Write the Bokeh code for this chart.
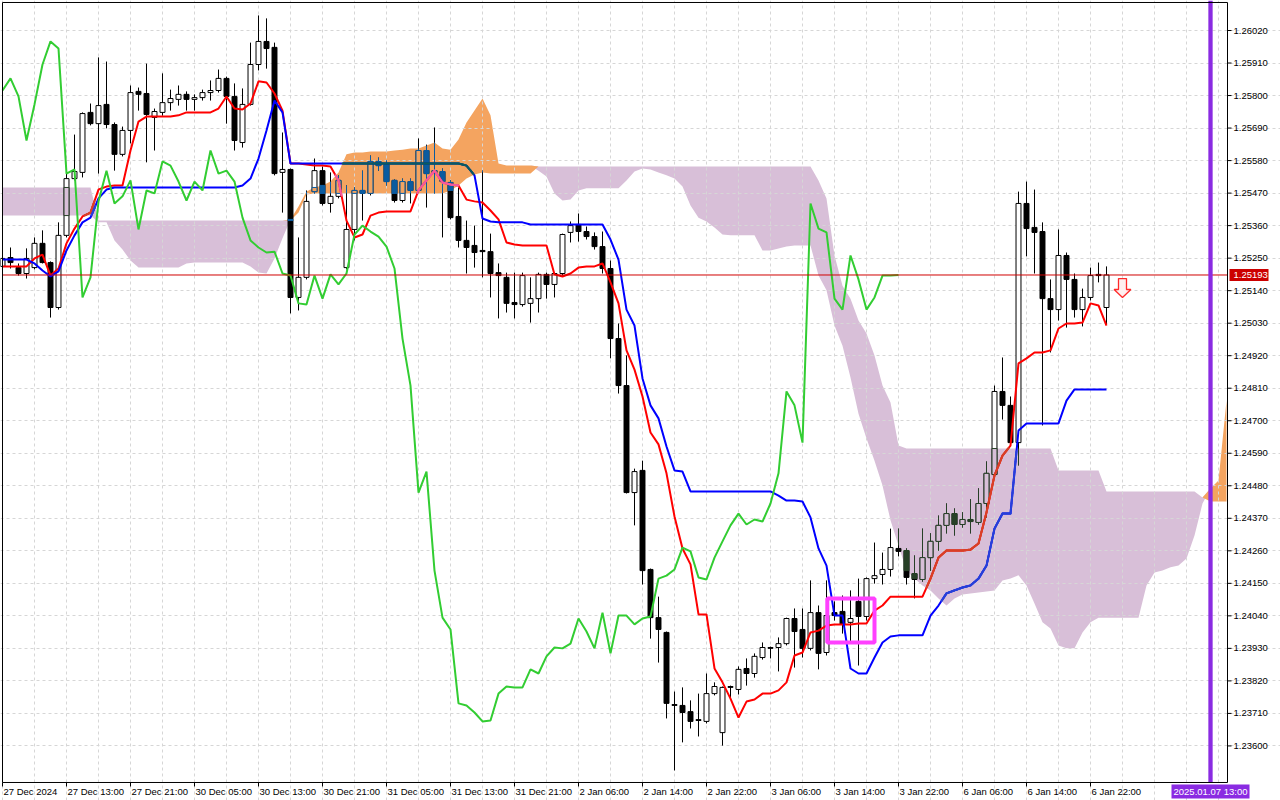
import numpy as np
from bokeh.plotting import figure
from bokeh.models import FixedTicker, Range1d
from bokeh.core.properties import value
from bokeh.embed import file_html
from bokeh.resources import INLINE

# ---------------- data (H1 candles + Ichimoku) ----------------
date_ticks = [0, 8, 16, 24, 32, 40, 48, 56, 64, 72, 80, 88, 96, 104, 112, 120, 128, 136]
date_labels = ["27 Dec 2024", "27 Dec 13:00", "27 Dec 21:00", "30 Dec 05:00", "30 Dec 13:00",
               "30 Dec 21:00", "31 Dec 05:00", "31 Dec 13:00", "31 Dec 21:00", "2 Jan 06:00",
               "2 Jan 14:00", "2 Jan 22:00", "3 Jan 06:00", "3 Jan 14:00", "3 Jan 22:00",
               "6 Jan 06:00", "6 Jan 14:00", "6 Jan 22:00"]
grid_bars = [0, 4, 8, 12, 16, 20, 24, 28, 32, 36, 40, 44, 48, 52, 56, 60, 64, 68, 72, 76,
             80, 84, 88, 92, 96, 100, 104, 108, 112, 116, 120, 124, 128, 132, 136, 140, 144,
             148, 152]
price_ticks = [1.23600, 1.23710, 1.23820, 1.23930, 1.24040, 1.24150, 1.24260, 1.24370,
               1.24480, 1.24590, 1.24700, 1.24810, 1.24920, 1.25030, 1.25140, 1.25250,
               1.25360, 1.25470, 1.25580, 1.25690, 1.25800, 1.25910, 1.26020]

opens = [
    1.25222, 1.25252, 1.25218, 1.25198, 1.25218, 1.25300, 1.25235, 1.25083, 1.25327, 1.25519,
    1.25540, 1.25743, 1.25705, 1.25770, 1.25702, 1.25601, 1.25682, 1.25814, 1.25807, 1.25726,
    1.25743, 1.25776, 1.25787, 1.25804, 1.25787, 1.25793, 1.25810, 1.25817, 1.25858, 1.25797,
    1.25641, 1.25770, 1.25905, 1.25983, 1.25963, 1.25540, 1.25550, 1.25117, 1.25185, 1.25475,
    1.25546, 1.25435, 1.25459, 1.25218, 1.25347, 1.25479, 1.25469, 1.25577, 1.25567, 1.25513,
    1.25445, 1.25509, 1.25479, 1.25614, 1.25540, 1.25543, 1.25506, 1.25391, 1.25310, 1.25293,
    1.25276, 1.25272, 1.25201, 1.25185, 1.25100, 1.25093, 1.25097, 1.25113, 1.25195, 1.25161,
    1.25198, 1.25337, 1.25364, 1.25340, 1.25323, 1.25289, 1.25215, 1.24978, 1.24819, 1.24457,
    1.24532, 1.24197, 1.24034, 1.23984, 1.23740, 1.23737, 1.23716, 1.23689, 1.23683, 1.23777,
    1.23645, 1.23801, 1.23791, 1.23862, 1.23845, 1.23899, 1.23933, 1.23933, 1.23946, 1.24031,
    1.23994, 1.23930, 1.24051, 1.23916, 1.24051, 1.24055, 1.24018, 1.24089, 1.24038, 1.24166,
    1.24180, 1.24197, 1.24268, 1.24261, 1.24183, 1.24163, 1.24237, 1.24292, 1.24346, 1.24386,
    1.24349, 1.24366, 1.24356, 1.24420, 1.24518, 1.24799, 1.24752, 1.24626, 1.25435, 1.25354,
    1.25340, 1.25113, 1.25076, 1.25259, 1.25178, 1.25076, 1.25117, 1.25195, 1.25083,
]
highs = [
    1.25269, 1.25286, 1.25232, 1.25283, 1.25320, 1.25344, 1.25239, 1.25371, 1.25540, 1.25668,
    1.25743, 1.25773, 1.25929, 1.25915, 1.25709, 1.25695, 1.25834, 1.25827, 1.25908, 1.25756,
    1.25875, 1.25820, 1.25834, 1.25814, 1.25804, 1.25820, 1.25851, 1.25888, 1.25864, 1.25841,
    1.25824, 1.25979, 1.26071, 1.26061, 1.25979, 1.25675, 1.25553, 1.25320, 1.25479, 1.25587,
    1.25560, 1.25540, 1.25530, 1.25496, 1.25489, 1.25546, 1.25597, 1.25590, 1.25580, 1.25516,
    1.25519, 1.25519, 1.25655, 1.25634, 1.25692, 1.25553, 1.25513, 1.25489, 1.25377, 1.25360,
    1.25546, 1.25333, 1.25232, 1.25201, 1.25201, 1.25201, 1.25185, 1.25201, 1.25201, 1.25201,
    1.25333, 1.25374, 1.25401, 1.25357, 1.25337, 1.25340, 1.25242, 1.25029, 1.24921, 1.24538,
    1.24565, 1.24200, 1.24105, 1.23987, 1.23784, 1.23798, 1.23754, 1.23777, 1.23845, 1.23815,
    1.23801, 1.23804, 1.23869, 1.23896, 1.23913, 1.23950, 1.23936, 1.23967, 1.24034, 1.24065,
    1.24065, 1.24160, 1.24075, 1.24160, 1.24089, 1.24109, 1.24126, 1.24166, 1.24170, 1.24288,
    1.24254, 1.24335, 1.24335, 1.24268, 1.24244, 1.24335, 1.24319, 1.24379, 1.24420, 1.24403,
    1.24390, 1.24434, 1.24471, 1.24562, 1.24819, 1.24914, 1.24782, 1.25475, 1.25509, 1.25482,
    1.25371, 1.25178, 1.25347, 1.25269, 1.25198, 1.25147, 1.25218, 1.25235, 1.25222,
]
lows = [
    1.25208, 1.25215, 1.25191, 1.25181, 1.25212, 1.25232, 1.25049, 1.25076, 1.25320, 1.25513,
    1.25523, 1.25699, 1.25536, 1.25689, 1.25546, 1.25594, 1.25638, 1.25749, 1.25574, 1.25614,
    1.25732, 1.25749, 1.25766, 1.25749, 1.25749, 1.25783, 1.25783, 1.25810, 1.25705, 1.25614,
    1.25624, 1.25766, 1.25885, 1.25891, 1.25530, 1.25404, 1.25063, 1.25073, 1.25178, 1.25469,
    1.25428, 1.25404, 1.25452, 1.25212, 1.25310, 1.25377, 1.25462, 1.25546, 1.25496, 1.25438,
    1.25438, 1.25435, 1.25472, 1.25421, 1.25469, 1.25320, 1.25381, 1.25286, 1.25198, 1.25218,
    1.25185, 1.25117, 1.25046, 1.25066, 1.25046, 1.25086, 1.25032, 1.25066, 1.25113, 1.25117,
    1.25191, 1.25303, 1.25306, 1.25313, 1.25279, 1.25198, 1.24911, 1.24792, 1.24454, 1.24346,
    1.24146, 1.23963, 1.23882, 1.23693, 1.23517, 1.23612, 1.23659, 1.23632, 1.23676, 1.23771,
    1.23601, 1.23760, 1.23774, 1.23804, 1.23831, 1.23892, 1.23896, 1.23852, 1.23940, 1.23865,
    1.23899, 1.23923, 1.23859, 1.23906, 1.24024, 1.23980, 1.23946, 1.23872, 1.24024, 1.24149,
    1.24146, 1.24173, 1.24241, 1.24146, 1.24099, 1.24156, 1.24193, 1.24261, 1.24319, 1.24312,
    1.24339, 1.24319, 1.24349, 1.24373, 1.24511, 1.24704, 1.24620, 1.24549, 1.25256, 1.25198,
    1.24684, 1.24931, 1.25039, 1.25015, 1.25049, 1.25019, 1.25107, 1.25168, 1.25026,
]
closes = [
    1.25249, 1.25235, 1.25198, 1.25249, 1.25300, 1.25235, 1.25083, 1.25327, 1.25519, 1.25543,
    1.25739, 1.25705, 1.25766, 1.25702, 1.25601, 1.25682, 1.25810, 1.25804, 1.25736, 1.25746,
    1.25776, 1.25790, 1.25804, 1.25787, 1.25793, 1.25810, 1.25817, 1.25858, 1.25797, 1.25648,
    1.25770, 1.25905, 1.25983, 1.25959, 1.25536, 1.25550, 1.25117, 1.25185, 1.25442, 1.25546,
    1.25435, 1.25459, 1.25513, 1.25347, 1.25479, 1.25469, 1.25577, 1.25563, 1.25509, 1.25445,
    1.25509, 1.25479, 1.25614, 1.25536, 1.25546, 1.25509, 1.25387, 1.25310, 1.25286, 1.25269,
    1.25272, 1.25198, 1.25191, 1.25097, 1.25093, 1.25191, 1.25113, 1.25195, 1.25161, 1.25198,
    1.25330, 1.25360, 1.25340, 1.25323, 1.25289, 1.25215, 1.24978, 1.24819, 1.24457, 1.24528,
    1.24193, 1.24034, 1.23994, 1.23744, 1.23737, 1.23713, 1.23683, 1.23686, 1.23777, 1.23801,
    1.23798, 1.23798, 1.23859, 1.23845, 1.23903, 1.23933, 1.23930, 1.23946, 1.24031, 1.23987,
    1.23930, 1.24051, 1.23913, 1.24041, 1.24041, 1.24011, 1.24031, 1.24038, 1.24166, 1.24176,
    1.24197, 1.24271, 1.24258, 1.24170, 1.24163, 1.24237, 1.24292, 1.24346, 1.24386, 1.24349,
    1.24366, 1.24359, 1.24420, 1.24522, 1.24799, 1.24752, 1.24626, 1.25435, 1.25350, 1.25337,
    1.25113, 1.25076, 1.25259, 1.25178, 1.25076, 1.25117, 1.25191, 1.25191, 1.25193,
]

# Tenkan-sen (red) and Kijun-sen (blue), one value per candle
tenkan = [
    1.25222, 1.25222, 1.25222, 1.25222, 1.25249, 1.25262, 1.25191, 1.25215, 1.25300, 1.25350,
    1.25391, 1.25404, 1.25482, 1.25492, 1.25496, 1.25496, 1.25614, 1.25712, 1.25729, 1.25729,
    1.25729, 1.25729, 1.25733, 1.25743, 1.25743, 1.25743, 1.25743, 1.25756, 1.25797, 1.25756,
    1.25753, 1.25773, 1.25848, 1.25844, 1.25807, 1.25749, 1.25570, 1.25570, 1.25567, 1.25563,
    1.25563, 1.25560, 1.25513, 1.25377, 1.25320, 1.25330, 1.25394, 1.25404, 1.25408, 1.25408,
    1.25408, 1.25408, 1.25479, 1.25513, 1.25546, 1.25506, 1.25499, 1.25496, 1.25448, 1.25442,
    1.25438, 1.25411, 1.25381, 1.25303, 1.25296, 1.25293, 1.25293, 1.25293, 1.25293, 1.25195,
    1.25188, 1.25198, 1.25218, 1.25222, 1.25222, 1.25232, 1.25168, 1.25097, 1.24938, 1.24873,
    1.24782, 1.24660, 1.24620, 1.24522, 1.24376, 1.24268, 1.24214, 1.24045, 1.24045, 1.23862,
    1.23815, 1.23760, 1.23696, 1.23750, 1.23757, 1.23777, 1.23777, 1.23788, 1.23815, 1.23906,
    1.23916, 1.23984, 1.23990, 1.24007, 1.24011, 1.24011, 1.24011, 1.24014, 1.24014, 1.24058,
    1.24075, 1.24105, 1.24105, 1.24105, 1.24105, 1.24105, 1.24166, 1.24237, 1.24261, 1.24261,
    1.24261, 1.24264, 1.24285, 1.24390, 1.24515, 1.24582, 1.24616, 1.24894, 1.24911, 1.24931,
    1.24931, 1.24938, 1.25012, 1.25029, 1.25029, 1.25032, 1.25097, 1.25090, 1.25022,
]
kijun = [
    1.25245, 1.25245, 1.25245, 1.25245, 1.25232, 1.25208, 1.25188, 1.25205, 1.25276, 1.25327,
    1.25371, 1.25387, 1.25452, 1.25482, 1.25489, 1.25489, 1.25489, 1.25489, 1.25489, 1.25489,
    1.25489, 1.25489, 1.25489, 1.25489, 1.25489, 1.25489, 1.25489, 1.25489, 1.25489, 1.25489,
    1.25496, 1.25519, 1.25587, 1.25682, 1.25783, 1.25743, 1.25570, 1.25570, 1.25570, 1.25570,
    1.25570, 1.25570, 1.25570, 1.25570, 1.25570, 1.25570, 1.25570, 1.25570, 1.25570, 1.25570,
    1.25570, 1.25570, 1.25570, 1.25570, 1.25570, 1.25570, 1.25570, 1.25570, 1.25563, 1.25530,
    1.25384, 1.25374, 1.25371, 1.25371, 1.25371, 1.25371, 1.25364, 1.25364, 1.25364, 1.25364,
    1.25364, 1.25364, 1.25364, 1.25364, 1.25364, 1.25364, 1.25313, 1.25245, 1.25076, 1.25022,
    1.24843, 1.24752, 1.24708, 1.24613, 1.24532, 1.24528, 1.24461, 1.24461, 1.24461, 1.24461,
    1.24461, 1.24461, 1.24461, 1.24461, 1.24461, 1.24461, 1.24461, 1.24447, 1.24430, 1.24430,
    1.24427, 1.24373, 1.24268, 1.24210, 1.24041, 1.24041, 1.23862, 1.23845, 1.23845, 1.23899,
    1.23950, 1.23970, 1.23974, 1.23974, 1.23974, 1.23974, 1.24041, 1.24075, 1.24116, 1.24126,
    1.24136, 1.24143, 1.24166, 1.24210, 1.24335, 1.24386, 1.24386, 1.24667, 1.24691, 1.24691,
    1.24691, 1.24691, 1.24691, 1.24768, 1.24806, 1.24806, 1.24806, 1.24806, 1.24806,
]

# Senkou span A and B (already shifted 26 bars ahead), one value per bar slot 0..153
span_a = [
    1.25394, 1.25394, 1.25394, 1.25394, 1.25394, 1.25394, 1.25394, 1.25394, 1.25394, 1.25394,
    1.25394, 1.25394, 1.25371, 1.25371, 1.25310, 1.25279, 1.25242, 1.25218, 1.25218, 1.25218,
    1.25218, 1.25218, 1.25218, 1.25232, 1.25235, 1.25235, 1.25235, 1.25235, 1.25235, 1.25235,
    1.25235, 1.25222, 1.25201, 1.25198, 1.25249, 1.25317, 1.25381, 1.25425, 1.25475, 1.25489,
    1.25496, 1.25509, 1.25540, 1.25601, 1.25607, 1.25607, 1.25611, 1.25611, 1.25611, 1.25614,
    1.25617, 1.25621, 1.25621, 1.25631, 1.25641, 1.25621, 1.25617, 1.25651, 1.25709, 1.25749,
    1.25790, 1.25733, 1.25570, 1.25563, 1.25563, 1.25563, 1.25563, 1.25546, 1.25526, 1.25469,
    1.25445, 1.25448, 1.25479, 1.25486, 1.25486, 1.25486, 1.25486, 1.25486, 1.25513, 1.25543,
    1.25553, 1.25550, 1.25540, 1.25530, 1.25519, 1.25492, 1.25428, 1.25387, 1.25374, 1.25354,
    1.25330, 1.25327, 1.25327, 1.25327, 1.25327, 1.25276, 1.25276, 1.25283, 1.25289, 1.25293,
    1.25293, 1.25293, 1.25191, 1.25141, 1.25022, 1.24954, 1.24846, 1.24724, 1.24640, 1.24565,
    1.24481, 1.24363, 1.24278, 1.24193, 1.24166, 1.24143, 1.24126, 1.24099, 1.24075, 1.24099,
    1.24112, 1.24116, 1.24119, 1.24122, 1.24126, 1.24160, 1.24166, 1.24177, 1.24143, 1.24082,
    1.24018, 1.23997, 1.23940, 1.23930, 1.23930, 1.23984, 1.24018, 1.24034, 1.24034, 1.24034,
    1.24034, 1.24034, 1.24034, 1.24143, 1.24187, 1.24193, 1.24204, 1.24210, 1.24234, 1.24312,
    1.24420, 1.24471, 1.24498, 1.24768,
]
span_b = [
    1.25489, 1.25489, 1.25489, 1.25489, 1.25489, 1.25489, 1.25489, 1.25489, 1.25489, 1.25489,
    1.25489, 1.25489, 1.25377, 1.25377, 1.25377, 1.25377, 1.25377, 1.25377, 1.25377, 1.25377,
    1.25377, 1.25377, 1.25377, 1.25377, 1.25377, 1.25377, 1.25377, 1.25377, 1.25377, 1.25377,
    1.25377, 1.25377, 1.25377, 1.25377, 1.25377, 1.25377, 1.25377, 1.25404, 1.25465, 1.25469,
    1.25469, 1.25469, 1.25469, 1.25469, 1.25469, 1.25469, 1.25469, 1.25469, 1.25469, 1.25469,
    1.25469, 1.25469, 1.25469, 1.25469, 1.25469, 1.25469, 1.25479, 1.25496, 1.25519, 1.25533,
    1.25540, 1.25536, 1.25536, 1.25536, 1.25536, 1.25536, 1.25536, 1.25560, 1.25560, 1.25560,
    1.25560, 1.25560, 1.25560, 1.25560, 1.25560, 1.25560, 1.25560, 1.25560, 1.25560, 1.25560,
    1.25560, 1.25560, 1.25560, 1.25560, 1.25560, 1.25560, 1.25560, 1.25560, 1.25560, 1.25560,
    1.25560, 1.25560, 1.25560, 1.25560, 1.25560, 1.25560, 1.25560, 1.25560, 1.25560, 1.25560,
    1.25560, 1.25560, 1.25513, 1.25452, 1.25259, 1.25157, 1.25113, 1.25039, 1.24995, 1.24921,
    1.24819, 1.24762, 1.24616, 1.24606, 1.24606, 1.24606, 1.24606, 1.24606, 1.24606, 1.24606,
    1.24606, 1.24606, 1.24606, 1.24606, 1.24606, 1.24606, 1.24606, 1.24606, 1.24606, 1.24606,
    1.24606, 1.24606, 1.24532, 1.24532, 1.24532, 1.24532, 1.24532, 1.24532, 1.24461, 1.24461,
    1.24461, 1.24461, 1.24461, 1.24461, 1.24461, 1.24461, 1.24461, 1.24461, 1.24461, 1.24461,
    1.24440, 1.24427, 1.24427, 1.24427,
]
chikou_shift = 26

last_price = 1.25193
last_price_label = "1.25193"
time_line_bar = 151
time_line_label = "2025.01.07 13:00"
box_bars = (103.1, 109.0)          # magenta frame around the signal
box_prices = (1.23950, 1.24099)
arrow_bar = 140                    # sell arrow
arrow_prices = (1.25181, 1.25144, 1.25117)   # shaft top, head base, tip

# ---------------- layout of the terminal window ----------------
# canvas is 1280x800 px; price frame spans bars 0..153.125 (8 px per bar)
PX_BAR = 1 / 8.0              # bars per pixel
PX_PRICE = 0.000033826        # price per pixel
X_RANGE = (-0.25, 159.75)
Y_RANGE = (1.2341542, 1.2612148)
FRAME_L, FRAME_R = 0.0, 153.125
FRAME_B, FRAME_T = 1.2347631, 1.2611473

FONT = "Liberation Sans"
FONT_SIZE = "9.5px"

# terminal colours; the kumo is painted in XOR mode over candles, tenkan and kijun
KUMO_UP, KUMO_DN = "#F4A460", "#D8BFD8"
XOR_UP = {"black": "#0B5B9F", "white": KUMO_UP, "red": "#F45B9F", "blue": "#0B5B60"}
XOR_DN = {"black": "#274027", "white": KUMO_DN, "red": "#D84027", "blue": "#2740D8"}

o = np.array(opens)
h = np.array(highs)
l = np.array(lows)
c = np.array(closes)
bars = np.arange(len(c))
a = np.array(span_a)
b = np.array(span_b)
cloud_x = np.arange(len(a))
kumo_top = np.maximum(a, b)
kumo_bot = np.minimum(a, b)
kumo_up = a > b

p = figure(width=1280, height=800, output_backend="svg", toolbar_location=None,
           x_range=Range1d(*X_RANGE), y_range=Range1d(*Y_RANGE),
           x_axis_location=None, y_axis_location=None, min_border=0)
p.background_fill_color = "white"
p.border_fill_color = "white"
p.outline_line_color = None

# grid (dashed, only inside the price frame)
p.xgrid.ticker = FixedTicker(ticks=grid_bars)
p.ygrid.ticker = FixedTicker(ticks=price_ticks)
p.xgrid.bounds = (FRAME_B, FRAME_T)
p.ygrid.bounds = (FRAME_L, FRAME_R)
for g in (p.xgrid, p.ygrid):
    g.grid_line_color = "#D6D6D6"
    g.grid_line_dash = "3 3"

# Kumo
purple = p.varea(x=cloud_x, y1=a, y2=kumo_top, fill_color=KUMO_DN)
orange = p.varea(x=cloud_x, y1=b, y2=kumo_top, fill_color=KUMO_UP)
purple.level = "underlay"
orange.level = "underlay"

# candles
up = c >= o
body_top = np.maximum(o, c)
body_bot = np.minimum(o, c)
p.segment(x0=bars, y0=l, x1=bars, y1=h, line_color="black", line_width=1)
p.vbar(x=bars[up], width=0.62, top=c[up], bottom=o[up],
       fill_color="white", line_color="black", line_width=1)
p.vbar(x=bars[~up], width=0.62, top=o[~up], bottom=c[~up],
       fill_color="black", line_color="black", line_width=1)

# parts of the candles that lie inside the kumo
k_top = kumo_top[:len(c)]
k_bot = kumo_bot[:len(c)]
k_up = kumo_up[:len(c)]
for mask_kumo, xor in ((k_up, XOR_UP), (~k_up, XOR_DN)):
    w0 = np.maximum(l, k_bot)
    w1 = np.minimum(h, k_top)
    m = mask_kumo & (w1 > w0)
    p.segment(x0=bars[m], y0=w0[m], x1=bars[m], y1=w1[m], line_color=xor["black"], line_width=1)
    b0 = np.maximum(body_bot, k_bot)
    b1 = np.minimum(body_top, k_top)
    for kind, col in ((up, "white"), (~up, "black")):
        m = mask_kumo & kind & (b1 > b0)
        p.vbar(x=bars[m], width=0.62, top=b1[m], bottom=b0[m],
               fill_color=xor[col], line_color=xor["black"], line_width=1)

# Ichimoku lines
p.line(bars, tenkan, line_color="#FF0000", line_width=2)
p.line(bars, kijun, line_color="#0000FF", line_width=2)


def kumo_pieces(xs, ys, steps=8):
    """Split a polyline into short pieces and keep those inside the kumo."""
    xs = np.asarray(xs, dtype=float)
    ys = np.asarray(ys, dtype=float)
    t = np.linspace(0, 1, steps + 1)
    fx = np.concatenate([xs[i] + (xs[i + 1] - xs[i]) * t[:-1] for i in range(len(xs) - 1)] + [xs[-1:]])
    fy = np.concatenate([ys[i] + (ys[i + 1] - ys[i]) * t[:-1] for i in range(len(ys) - 1)] + [ys[-1:]])
    mx = (fx[:-1] + fx[1:]) / 2
    my = (fy[:-1] + fy[1:]) / 2
    lo = np.interp(mx, cloud_x, kumo_bot)
    hi = np.interp(mx, cloud_x, kumo_top)
    diff = np.interp(mx, cloud_x, a - b)
    inside = (my > lo) & (my < hi)
    res = []
    for m in (inside & (diff > 0), inside & (diff <= 0)):
        res.append((fx[:-1][m], fy[:-1][m], fx[1:][m], fy[1:][m]))
    return res


for ys, key in ((tenkan, "red"), (kijun, "blue")):
    up_part, dn_part = kumo_pieces(bars, ys)
    for (x0, y0, x1, y1), xor in ((up_part, XOR_UP), (dn_part, XOR_DN)):
        p.segment(x0=x0, y0=y0, x1=x1, y1=y1, line_color=xor[key], line_width=2, line_cap="round")

# Chikou span is painted after the kumo
p.line(bars[chikou_shift:] - chikou_shift, c[chikou_shift:], line_color="#32CD32", line_width=2)

# signal frame and arrow
p.quad(left=box_bars[0], right=box_bars[1], bottom=box_prices[0], top=box_prices[1],
       fill_color=None, line_color="#FF40FF", line_width=4)
ax = arrow_bar
p.patch(x=[ax - 0.5, ax + 0.5, ax + 0.5, ax + 1.05, ax, ax - 1.05, ax - 0.5],
        y=[arrow_prices[0], arrow_prices[0], arrow_prices[1], arrow_prices[1],
           arrow_prices[2], arrow_prices[1], arrow_prices[1]],
        fill_color="#FFF0F0", line_color="#FF2A2A", line_width=1.3)

# current price line and time marker
p.segment(x0=[FRAME_L], y0=[last_price], x1=[FRAME_R], y1=[last_price],
          line_color="#D00000", line_width=1)
p.segment(x0=[time_line_bar], y0=[FRAME_B], x1=[time_line_bar], y1=[Y_RANGE[1]],
          line_color="#8A2BE2", line_width=4.3)

# frame border
p.rect(x=[(FRAME_L + FRAME_R) / 2], y=[(FRAME_B + FRAME_T) / 2],
       width=FRAME_R - FRAME_L, height=FRAME_T - FRAME_B,
       fill_color=None, line_color="black", line_width=1)

# price scale (right)
p.segment(x0=[FRAME_R] * len(price_ticks), y0=price_ticks,
          x1=[FRAME_R + 4 * PX_BAR] * len(price_ticks), y1=price_ticks,
          line_color="black", line_width=1)
p.text(x=[FRAME_R] * len(price_ticks), y=price_ticks, text=[f"{t:.5f}" for t in price_ticks],
       x_offset=6, text_font=value(FONT), text_font_size=FONT_SIZE, text_color="black",
       text_align="left", text_baseline="middle")

# time scale (bottom)
p.segment(x0=date_ticks, y0=[FRAME_B] * len(date_ticks),
          x1=date_ticks, y1=[FRAME_B - 4 * PX_PRICE] * len(date_ticks),
          line_color="black", line_width=1)
p.text(x=date_ticks, y=[FRAME_B] * len(date_ticks), text=date_labels,
       x_offset=1, y_offset=4, text_font=value(FONT), text_font_size=FONT_SIZE,
       text_color="black", text_align="left", text_baseline="top")

# tags: last price (red) and time marker (purple)
p.rect(x=[FRAME_R + 21.5 * PX_BAR], y=[last_price], width=39, height=12,
       width_units="screen", height_units="screen", fill_color="#CC0000", line_color=None)
p.text(x=[FRAME_R], y=[last_price], text=[last_price_label], x_offset=6,
       text_font=value(FONT), text_font_size=FONT_SIZE, text_color="white",
       text_align="left", text_baseline="middle")
p.rect(x=[time_line_bar], y=[FRAME_B - 9 * PX_PRICE], width=78, height=14,
       width_units="screen", height_units="screen", fill_color="#8A2BE2", line_color=None)
p.text(x=[time_line_bar], y=[FRAME_B - 9 * PX_PRICE], text=[time_line_label],
       text_font=value(FONT), text_font_size=FONT_SIZE, text_color="white",
       text_align="center", text_baseline="middle")

open("out.html", "w").write(file_html(p, INLINE))
